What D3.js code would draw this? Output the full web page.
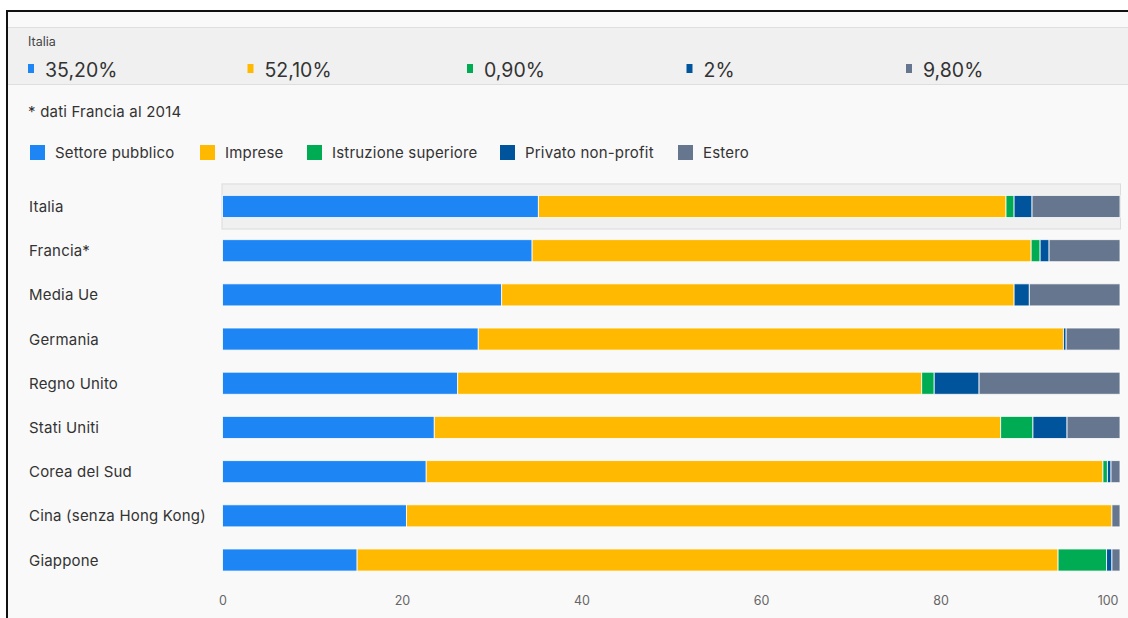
<!DOCTYPE html>
<html>
<head>
<meta charset="utf-8">
<script src="https://cdn.jsdelivr.net/npm/d3@7"></script>
<style>
  body { margin: 0; background: #fff; }
  svg { display: block; font-family: Inter, "Noto Sans", sans-serif; }
</style>
</head>
<body>
<div id="chart"></div>
<script>
// paesi (dall'alto in basso)
var countries = ["Italia", "Francia*", "Media Ue", "Germania", "Regno Unito",
    "Stati Uniti", "Corea del Sud", "Cina (senza Hong Kong)", "Giappone"];

var seriesNames = ["Settore pubblico", "Imprese", "Istruzione superiore", "Privato non-profit", "Estero"];
var seriesKeys = ["pubblico", "imprese", "istruzione", "privato", "estero"];
var colors = ["#1e86f4", "#ffb900", "#00ac53", "#00549b", "#66768e"];

// quote % per fonte di finanziamento
var pubblico   = [35.2, 34.5, 31.1, 28.5, 26.2, 23.6, 22.7, 20.5, 15.0];
var imprese    = [52.1, 55.6, 57.1, 65.2, 51.7, 63.1, 75.4, 78.6, 78.1];
var istruzione = [0.9, 1.0, 0.0, 0.0, 1.4, 3.6, 0.5, 0.0, 5.4];
var privato    = [2.0, 1.0, 1.7, 0.3, 5.0, 3.8, 0.4, 0.0, 0.6];
var estero     = [9.8, 7.9, 10.1, 6.0, 15.7, 5.9, 1.0, 0.9, 0.9];

var ticks = [0, 20, 40, 60, 80, 100];
var highlighted = "Italia";

var W = 1128, H = 618;
var svg = d3.select("#chart").append("svg").attr("width", W).attr("height", H);

// cornice
svg.append("rect").attr("x", 0).attr("y", 0).attr("width", W).attr("height", H).attr("fill", "#fff");
svg.append("rect").attr("x", 8).attr("y", 12).attr("width", W - 8).attr("height", H - 12).attr("fill", "#f9f9f9");
svg.append("line").attr("x1", 7).attr("x2", 7).attr("y1", 10).attr("y2", H).attr("stroke", "#111").attr("stroke-width", 2);
svg.append("line").attr("x1", 6).attr("x2", W).attr("y1", 11).attr("y2", 11).attr("stroke", "#111").attr("stroke-width", 2);

// tooltip fisso in alto (Italia)
svg.append("rect").attr("x", 8).attr("y", 27).attr("width", W - 8).attr("height", 58)
    .attr("fill", "#f0f0f0");
svg.append("line").attr("x1", 8).attr("x2", W).attr("y1", 27.5).attr("y2", 27.5).attr("stroke", "#dedede");
svg.append("line").attr("x1", 8).attr("x2", W).attr("y1", 84.5).attr("y2", 84.5).attr("stroke", "#dedede");

var rows = countries.map(function(c, i) {
    return { country: c, pubblico: pubblico[i], imprese: imprese[i], istruzione: istruzione[i],
        privato: privato[i], estero: estero[i] };
});
var hi = rows[countries.indexOf(highlighted)];

svg.append("text").attr("x", 28).attr("y", 46).attr("font-size", 12.5).attr("fill", "#444").text(highlighted);

function fmt(v) {
    return Number.isInteger(v) ? v + "%" : v.toFixed(2).replace(".", ",") + "%";
}

var head = svg.selectAll("g.head").data(seriesKeys).enter().append("g")
    .attr("class", "head")
    .attr("transform", function(d, i) { return "translate(" + (28 + i * 219.5) + ",0)"; });
head.append("rect").attr("x", 0).attr("y", 64).attr("width", 6).attr("height", 9)
    .attr("fill", function(d, i) { return colors[i]; });
head.append("text").attr("x", 17).attr("y", 76.5).attr("font-size", 19.5).attr("fill", "#333")
    .text(function(d) { return fmt(hi[d]); });

// nota
svg.append("text").attr("x", 28).attr("y", 117).attr("font-size", 15).attr("letter-spacing", 0.2)
    .attr("fill", "#333").text("* dati Francia al 2014");

// legenda
var legX = [30, 200, 307, 500, 678];
var leg = svg.selectAll("g.leg").data(seriesNames).enter().append("g")
    .attr("class", "leg")
    .attr("transform", function(d, i) { return "translate(" + legX[i] + ",145)"; });
leg.append("rect").attr("width", 15).attr("height", 15)
    .attr("fill", function(d, i) { return colors[i]; });
leg.append("text").attr("x", 25).attr("y", 13).attr("font-size", 15).attr("letter-spacing", 0.2)
    .attr("fill", "#333").text(function(d) { return d; });

// scale
var x = d3.scaleLinear().domain([0, 100]).range([222.5, 1120]);
var y = d3.scaleBand().domain(countries).range([183.5, 583]).paddingInner(0.5).paddingOuter(0.27);

// riga evidenziata
svg.append("rect")
    .attr("x", x(0) - 0.5).attr("width", x(100) - x(0) + 1)
    .attr("y", y(highlighted) - 11.5).attr("height", y.bandwidth() + 23)
    .attr("fill", "#f0f0f0").attr("stroke", "#dcdcdc");

var stack = d3.stack().keys(seriesKeys);
var layers = stack(rows);

svg.append("g").selectAll("g").data(layers).enter().append("g")
    .attr("fill", function(d, i) { return colors[i]; })
    .selectAll("rect").data(function(d) { return d; }).enter().append("rect")
    .attr("x", function(d) { return x(d[0]); })
    .attr("width", function(d) { return Math.max(0, x(d[1]) - x(d[0])); })
    .attr("y", function(d) { return y(d.data.country); })
    .attr("height", y.bandwidth())
    .attr("stroke", "#fff").attr("stroke-opacity", 0.8).attr("stroke-width", 1);

// etichette paesi
svg.append("g").selectAll("text").data(countries).enter().append("text")
    .attr("x", 29)
    .attr("y", function(d) { return y(d) + y.bandwidth() / 2 + 5.5; })
    .attr("font-size", 15).attr("letter-spacing", 0.2).attr("fill", "#333")
    .text(function(d) { return d; });

// asse x
var axis = svg.append("g").attr("transform", "translate(0,605)")
    .call(d3.axisBottom(x).tickValues(ticks).tickSize(0).tickPadding(0));
axis.select(".domain").remove();
axis.selectAll("text").attr("font-size", 12.5).attr("fill", "#666")
    .attr("font-family", "Inter, 'Noto Sans', sans-serif").attr("dy", 0);
axis.selectAll(".tick").filter(function(d) { return d === 100; }).select("text")
    .attr("text-anchor", "end").attr("x", -2);
</script>
</body>
</html>
